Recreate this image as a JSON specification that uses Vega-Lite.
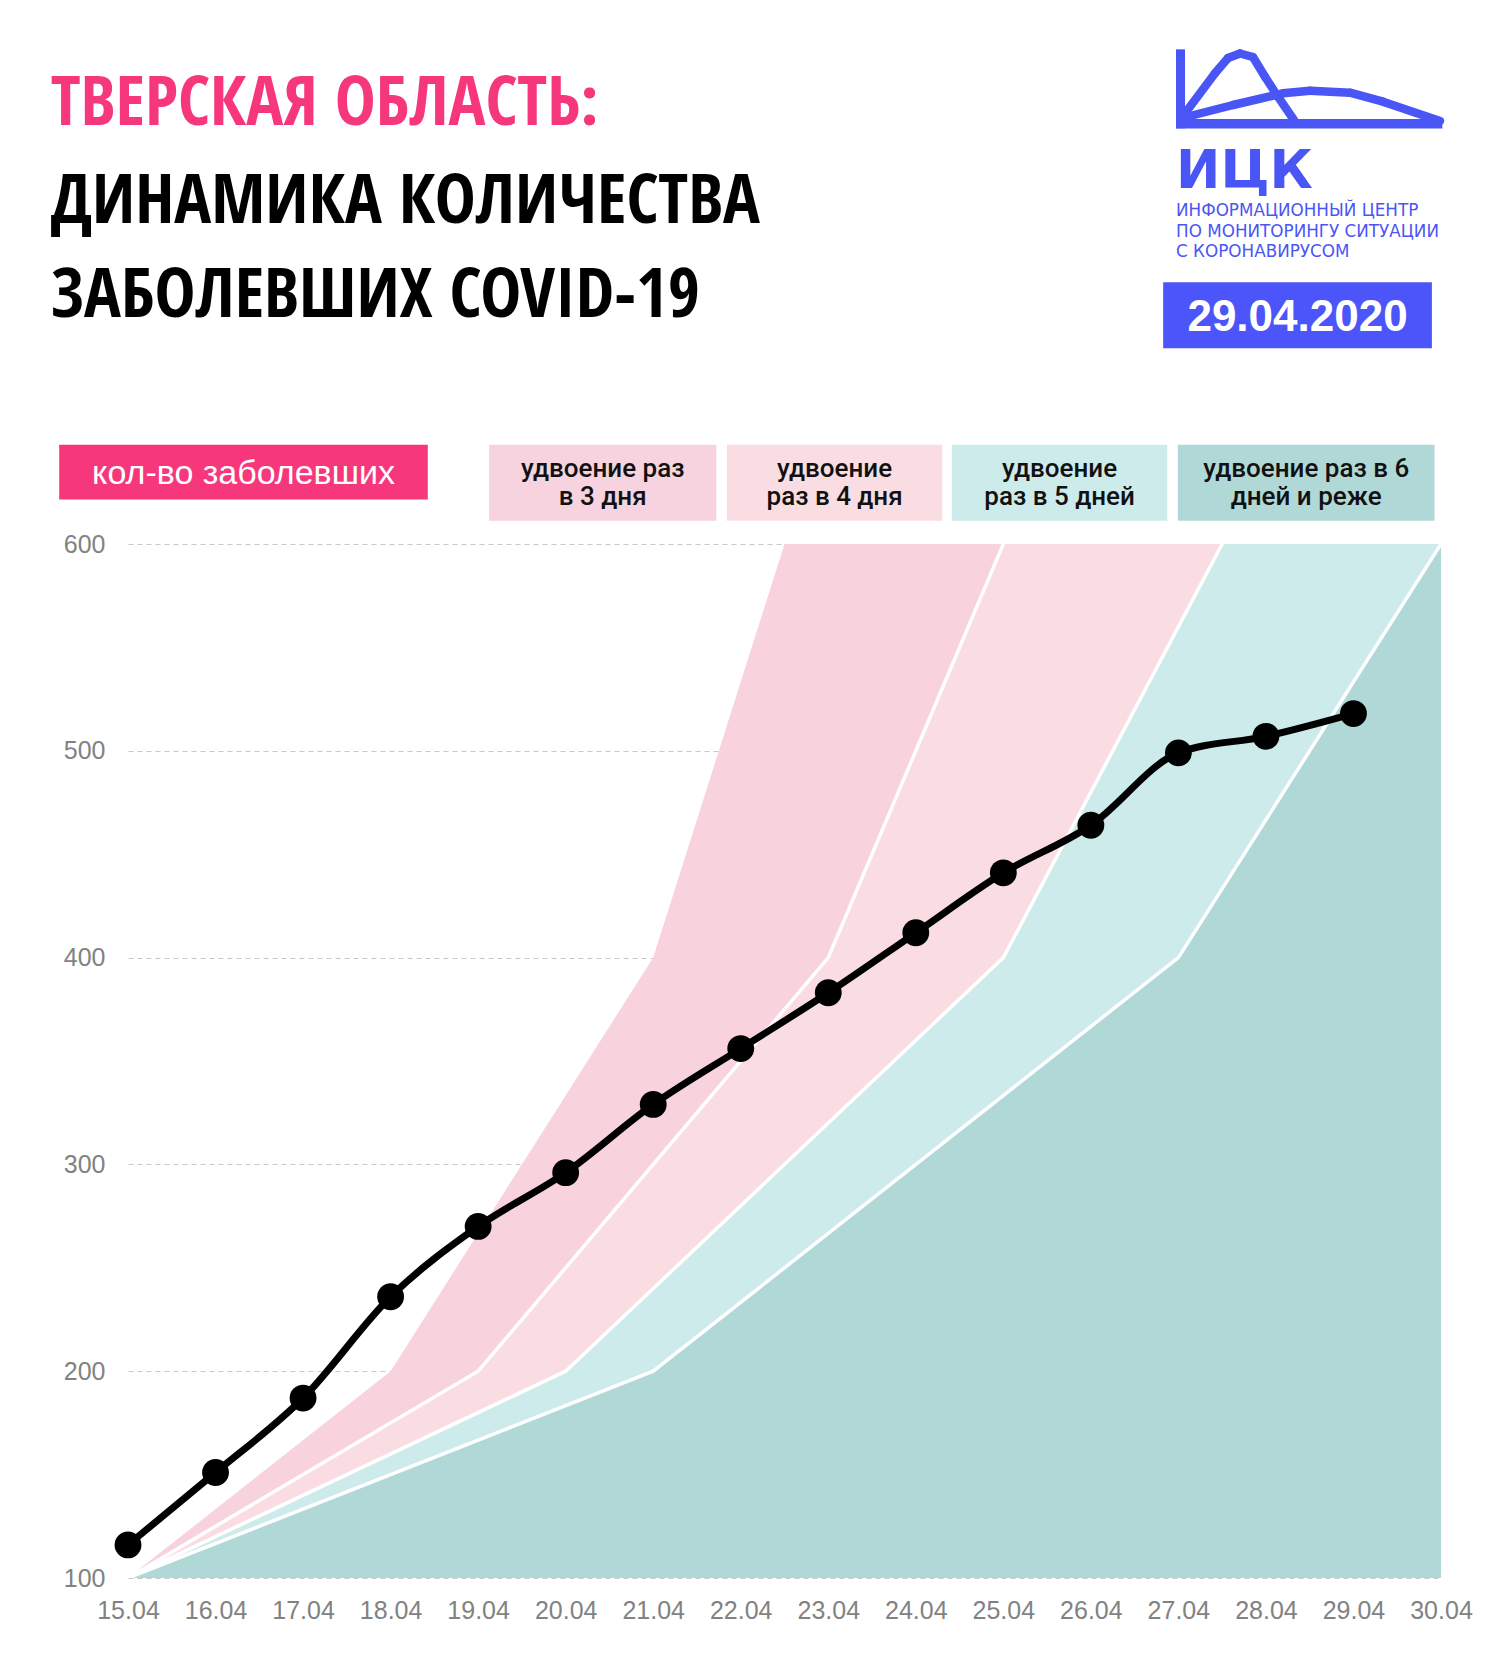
{
  "$schema": "https://vega.github.io/schema/vega-lite/v6.json",
  "width": 1313,
  "height": 1034,
  "autosize": {"type": "none"},
  "padding": {"left": 128, "top": 544, "right": 59, "bottom": 78},
  "background": "white",
  "config": {"view": {"stroke": null}},
  "datasets": {
    "cases": [
      {"day": 15, "cases": 116}, {"day": 16, "cases": 151}, {"day": 17, "cases": 187},
      {"day": 18, "cases": 236}, {"day": 19, "cases": 270}, {"day": 20, "cases": 296},
      {"day": 21, "cases": 329}, {"day": 22, "cases": 356}, {"day": 23, "cases": 383},
      {"day": 24, "cases": 412}, {"day": 25, "cases": 441}, {"day": 26, "cases": 464},
      {"day": 27, "cases": 499}, {"day": 28, "cases": 507}, {"day": 29, "cases": 518}
    ],
    "bands": [
      {"band": 3, "day": 15, "value": 100}, {"band": 3, "day": 18, "value": 200}, {"band": 3, "day": 21, "value": 400}, {"band": 3, "day": 24, "value": 800}, {"band": 3, "day": 27, "value": 1600},
      {"band": 4, "day": 15, "value": 100}, {"band": 4, "day": 19, "value": 200}, {"band": 4, "day": 23, "value": 400}, {"band": 4, "day": 27, "value": 800}, {"band": 4, "day": 31, "value": 1600},
      {"band": 5, "day": 15, "value": 100}, {"band": 5, "day": 20, "value": 200}, {"band": 5, "day": 25, "value": 400}, {"band": 5, "day": 30, "value": 800},
      {"band": 6, "day": 15, "value": 100}, {"band": 6, "day": 21, "value": 200}, {"band": 6, "day": 27, "value": 400}, {"band": 6, "day": 33, "value": 800}
    ]
  },
  "layer": [
    {
      "data": {"name": "bands"},
      "transform": [{"filter": "datum.band == 3"}],
      "mark": {"type": "area", "clip": true, "color": "#F8D3DE"},
      "encoding": {
        "x": {"field": "day", "type": "quantitative", "scale": {"domain": [15, 30], "nice": false, "zero": false},
          "axis": {"title": null, "values": [15,16,17,18,19,20,21,22,23,24,25,26,27,28,29,30], "labelExpr": "datum.value + '.04'", "domain": false, "ticks": false, "grid": false, "labelFont": "Liberation Sans", "labelFontSize": 25, "labelColor": "#828282", "labelPadding": 20, "labelFlush": false, "labelOverlap": false}},
        "y": {"field": "value", "type": "quantitative", "scale": {"domain": [100, 600], "nice": false, "zero": false},
          "axis": {"title": null, "values": [100,200,300,400,500,600], "domain": false, "ticks": false, "grid": true, "gridColor": "#c8c8c8", "gridDash": [5, 4], "gridWidth": 1, "labelFont": "Liberation Sans", "labelFontSize": 25, "labelColor": "#828282", "labelPadding": 23, "labelFlush": false}},
        "y2": {"datum": 100}
      }
    },
    {
      "data": {"name": "bands"},
      "transform": [{"filter": "datum.band == 4"}],
      "mark": {"type": "area", "clip": true, "color": "#FADDE3"},
      "encoding": {"x": {"field": "day", "type": "quantitative"}, "y": {"field": "value", "type": "quantitative"}, "y2": {"datum": 100}}
    },
    {
      "data": {"name": "bands"},
      "transform": [{"filter": "datum.band == 5"}],
      "mark": {"type": "area", "clip": true, "color": "#CDEBEA"},
      "encoding": {"x": {"field": "day", "type": "quantitative"}, "y": {"field": "value", "type": "quantitative"}, "y2": {"datum": 100}}
    },
    {
      "data": {"name": "bands"},
      "transform": [{"filter": "datum.band == 6"}],
      "mark": {"type": "area", "clip": true, "color": "#B0D8D7"},
      "encoding": {"x": {"field": "day", "type": "quantitative"}, "y": {"field": "value", "type": "quantitative"}, "y2": {"datum": 100}}
    },
    {
      "data": {"name": "bands"},
      "transform": [{"filter": "datum.band >= 4"}],
      "mark": {"type": "line", "clip": true, "color": "white", "strokeWidth": 3.5},
      "encoding": {"x": {"field": "day", "type": "quantitative"}, "y": {"field": "value", "type": "quantitative"}, "detail": {"field": "band", "type": "nominal"}}
    },
    {
      "data": {"name": "cases"},
      "mark": {"type": "line", "color": "black", "strokeWidth": 7, "interpolate": "monotone"},
      "encoding": {"x": {"field": "day", "type": "quantitative"}, "y": {"field": "cases", "type": "quantitative"}}
    },
    {
      "data": {"name": "cases"},
      "mark": {"type": "point", "filled": true, "color": "black", "opacity": 1, "size": 720},
      "encoding": {"x": {"field": "day", "type": "quantitative"}, "y": {"field": "cases", "type": "quantitative"}}
    },
    {
      "data": {"values": [{}]},
      "mark": {"type": "text", "text": "ТВЕРСКАЯ ОБЛАСТЬ:", "align": "left", "baseline": "alphabetic", "font": "'Open Sans Condensed', 'Roboto Condensed', 'Liberation Sans'", "fontWeight": "bold", "fontSize": 69, "color": "#F7377B"},
      "encoding": {"x": {"datum": 14.117}, "y": {"datum": 802.8}}
    },
    {
      "data": {"values": [{}]},
      "mark": {"type": "text", "text": "ДИНАМИКА КОЛИЧЕСТВА", "align": "left", "baseline": "alphabetic", "font": "'Open Sans Condensed', 'Roboto Condensed', 'Liberation Sans'", "fontWeight": "bold", "fontSize": 69, "color": "black"},
      "encoding": {"x": {"datum": 14.117}, "y": {"datum": 755.3}}
    },
    {
      "data": {"values": [{}]},
      "mark": {"type": "text", "text": "ЗАБОЛЕВШИХ COVID-19", "align": "left", "baseline": "alphabetic", "font": "'Open Sans Condensed', 'Roboto Condensed', 'Liberation Sans'", "fontWeight": "bold", "fontSize": 69, "color": "black"},
      "encoding": {"x": {"datum": 14.117}, "y": {"datum": 709.8}}
    },
    {
      "data": {"values": [{}]},
      "mark": {"type": "rule", "color": "#4A55F6", "strokeWidth": 9, "strokeCap": "butt"},
      "encoding": {"x": {"datum": 27.024}, "y": {"datum": 839.2}, "x2": {"datum": 27.024}, "y2": {"datum": 801.0}}
    },
    {
      "data": {"values": [{}]},
      "mark": {"type": "rule", "color": "#4A55F6", "strokeWidth": 9.5, "strokeCap": "butt"},
      "encoding": {"x": {"datum": 26.973}, "y": {"datum": 803.26}, "x2": {"datum": 30.015}, "y2": {"datum": 803.26}}
    },
    {"data": {"values": [{}]}, "mark": {"type": "rule", "color": "#4A55F6", "strokeWidth": 8.5, "strokeCap": "round"},
      "encoding": {"x": {"datum": 27.087}, "y": {"datum": 808.9}, "x2": {"datum": 27.418}, "y2": {"datum": 827.61}}},
    {"data": {"values": [{}]}, "mark": {"type": "rule", "color": "#4A55F6", "strokeWidth": 8.5, "strokeCap": "round"},
      "encoding": {"x": {"datum": 27.418}, "y": {"datum": 827.61}, "x2": {"datum": 27.567}, "y2": {"datum": 835.01}}},
    {"data": {"values": [{}]}, "mark": {"type": "rule", "color": "#4A55F6", "strokeWidth": 8.5, "strokeCap": "round"},
      "encoding": {"x": {"datum": 27.567}, "y": {"datum": 835.01}, "x2": {"datum": 27.704}, "y2": {"datum": 837.19}}},
    {"data": {"values": [{}]}, "mark": {"type": "rule", "color": "#4A55F6", "strokeWidth": 8.5, "strokeCap": "round"},
      "encoding": {"x": {"datum": 27.704}, "y": {"datum": 837.19}, "x2": {"datum": 27.852}, "y2": {"datum": 835.49}}},
    {"data": {"values": [{}]}, "mark": {"type": "rule", "color": "#4A55F6", "strokeWidth": 8.5, "strokeCap": "round"},
      "encoding": {"x": {"datum": 27.852}, "y": {"datum": 835.49}, "x2": {"datum": 27.989}, "y2": {"datum": 825.97}}},
    {"data": {"values": [{}]}, "mark": {"type": "rule", "color": "#4A55F6", "strokeWidth": 8.5, "strokeCap": "round"},
      "encoding": {"x": {"datum": 27.989}, "y": {"datum": 825.97}, "x2": {"datum": 28.137}, "y2": {"datum": 816.3}}},
    {"data": {"values": [{}]}, "mark": {"type": "rule", "color": "#4A55F6", "strokeWidth": 8.5, "strokeCap": "round"},
      "encoding": {"x": {"datum": 28.137}, "y": {"datum": 816.3}, "x2": {"datum": 28.32}, "y2": {"datum": 805.03}}},
    {"data": {"values": [{}]}, "mark": {"type": "rule", "color": "#4A55F6", "strokeWidth": 8.5, "strokeCap": "round"},
      "encoding": {"x": {"datum": 27.11}, "y": {"datum": 806.72}, "x2": {"datum": 27.624}, "y2": {"datum": 812.28}}},
    {"data": {"values": [{}]}, "mark": {"type": "rule", "color": "#4A55F6", "strokeWidth": 8.5, "strokeCap": "round"},
      "encoding": {"x": {"datum": 27.624}, "y": {"datum": 812.28}, "x2": {"datum": 28.195}, "y2": {"datum": 817.94}}},
    {"data": {"values": [{}]}, "mark": {"type": "rule", "color": "#4A55F6", "strokeWidth": 8.5, "strokeCap": "round"},
      "encoding": {"x": {"datum": 28.195}, "y": {"datum": 817.94}, "x2": {"datum": 28.503}, "y2": {"datum": 819.2}}},
    {"data": {"values": [{}]}, "mark": {"type": "rule", "color": "#4A55F6", "strokeWidth": 8.5, "strokeCap": "round"},
      "encoding": {"x": {"datum": 28.503}, "y": {"datum": 819.2}, "x2": {"datum": 28.96}, "y2": {"datum": 818.23}}},
    {"data": {"values": [{}]}, "mark": {"type": "rule", "color": "#4A55F6", "strokeWidth": 8.5, "strokeCap": "round"},
      "encoding": {"x": {"datum": 28.96}, "y": {"datum": 818.23}, "x2": {"datum": 29.338}, "y2": {"datum": 813.88}}},
    {"data": {"values": [{}]}, "mark": {"type": "rule", "color": "#4A55F6", "strokeWidth": 8.5, "strokeCap": "round"},
      "encoding": {"x": {"datum": 29.338}, "y": {"datum": 813.88}, "x2": {"datum": 29.989}, "y2": {"datum": 804.55}}},
    {
      "data": {"values": [{}]},
      "mark": {"type": "text", "text": "ИЦК", "align": "left", "baseline": "alphabetic", "font": "DejaVu Sans", "fontWeight": "bold", "fontSize": 53, "color": "#4A55F6"},
      "encoding": {"x": {"datum": 26.973}, "y": {"datum": 772.15}}
    },
    {
      "data": {"values": [{}]},
      "mark": {"type": "text", "text": "ИНФОРМАЦИОННЫЙ ЦЕНТР", "align": "left", "baseline": "alphabetic", "font": "DejaVu Sans", "fontSize": 16.8, "color": "#4A55F6"},
      "encoding": {"x": {"datum": 26.973}, "y": {"datum": 758.37}}
    },
    {
      "data": {"values": [{}]},
      "mark": {"type": "text", "text": "ПО МОНИТОРИНГУ СИТУАЦИИ", "align": "left", "baseline": "alphabetic", "font": "DejaVu Sans", "fontSize": 16.8, "color": "#4A55F6"},
      "encoding": {"x": {"datum": 26.973}, "y": {"datum": 748.65}}
    },
    {
      "data": {"values": [{}]},
      "mark": {"type": "text", "text": "С КОРОНАВИРУСОМ", "align": "left", "baseline": "alphabetic", "font": "DejaVu Sans", "fontSize": 16.8, "color": "#4A55F6"},
      "encoding": {"x": {"datum": 26.973}, "y": {"datum": 738.93}}
    },
    {
      "data": {"values": [{}]},
      "mark": {"type": "rect", "color": "#4B55FA"},
      "encoding": {"x": {"datum": 26.826}, "x2": {"datum": 29.896}, "y": {"datum": 726.55}, "y2": {"datum": 694.63}}
    },
    {
      "data": {"values": [{}]},
      "mark": {"type": "text", "text": "29.04.2020", "align": "center", "baseline": "alphabetic", "font": "Liberation Sans", "fontWeight": "bold", "fontSize": 44, "color": "white"},
      "encoding": {"x": {"datum": 28.361}, "y": {"datum": 703.19}}
    },
    {
      "data": {"values": [{}]},
      "mark": {"type": "rect", "color": "#F7377B"},
      "encoding": {"x": {"datum": 14.214}, "x2": {"datum": 18.425}, "y": {"datum": 648.02}, "y2": {"datum": 621.47}}
    },
    {
      "data": {"values": [{}]},
      "mark": {"type": "text", "text": "кол-во заболевших", "align": "center", "baseline": "middle", "font": "Liberation Sans", "fontSize": 34, "color": "white"},
      "encoding": {"x": {"datum": 16.32}, "y": {"datum": 634.0}}
    },
    {
      "data": {"values": [{}]},
      "mark": {"type": "rect", "color": "#F6D3DF"},
      "encoding": {"x": {"datum": 19.126}, "x2": {"datum": 21.721}, "y": {"datum": 648.02}, "y2": {"datum": 611.22}}
    },
    {
      "data": {"values": [{}]},
      "mark": {"type": "rect", "color": "#F9DDE3"},
      "encoding": {"x": {"datum": 21.841}, "x2": {"datum": 24.303}, "y": {"datum": 648.02}, "y2": {"datum": 611.22}}
    },
    {
      "data": {"values": [{}]},
      "mark": {"type": "rect", "color": "#CDEBEA"},
      "encoding": {"x": {"datum": 24.411}, "x2": {"datum": 26.873}, "y": {"datum": 648.02}, "y2": {"datum": 611.22}}
    },
    {
      "data": {"values": [{}]},
      "mark": {"type": "rect", "color": "#B0D8D7"},
      "encoding": {"x": {"datum": 26.993}, "x2": {"datum": 29.926}, "y": {"datum": 648.02}, "y2": {"datum": 611.22}}
    },
    {
      "data": {"values": [{}]},
      "mark": {"type": "text", "text": ["удвоение раз", "в 3 дня"], "align": "center", "baseline": "middle", "lineHeight": 27.5, "font": "Roboto", "fontWeight": 500, "fontSize": 26, "color": "#111111"},
      "encoding": {"x": {"datum": 20.423}, "y": {"datum": 636.2}}
    },
    {
      "data": {"values": [{}]},
      "mark": {"type": "text", "text": ["удвоение", "раз в 4 дня"], "align": "center", "baseline": "middle", "lineHeight": 27.5, "font": "Roboto", "fontWeight": 500, "fontSize": 26, "color": "#111111"},
      "encoding": {"x": {"datum": 23.072}, "y": {"datum": 636.2}}
    },
    {
      "data": {"values": [{}]},
      "mark": {"type": "text", "text": ["удвоение", "раз в 5 дней"], "align": "center", "baseline": "middle", "lineHeight": 27.5, "font": "Roboto", "fontWeight": 500, "fontSize": 26, "color": "#111111"},
      "encoding": {"x": {"datum": 25.642}, "y": {"datum": 636.2}}
    },
    {
      "data": {"values": [{}]},
      "mark": {"type": "text", "text": ["удвоение раз в 6", "дней и реже"], "align": "center", "baseline": "middle", "lineHeight": 27.5, "font": "Roboto", "fontWeight": 500, "fontSize": 26, "color": "#111111"},
      "encoding": {"x": {"datum": 28.46}, "y": {"datum": 636.2}}
    }
  ]
}
